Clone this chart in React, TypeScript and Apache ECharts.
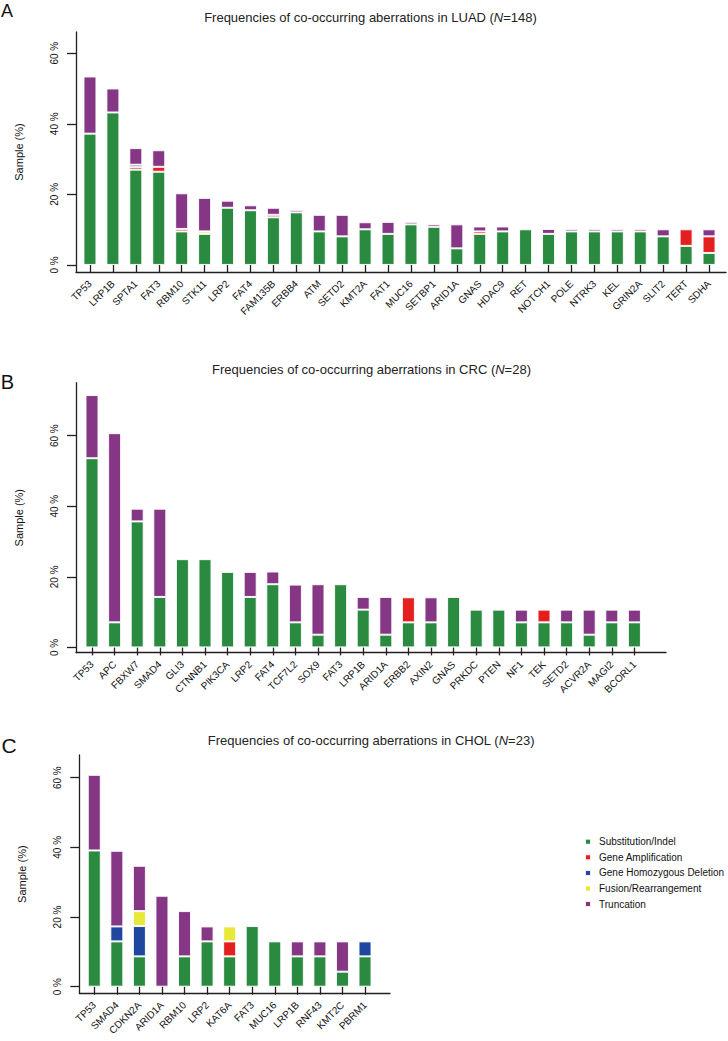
import React, { useEffect, useRef } from 'react';
import * as echarts from 'echarts';

const TYPES = ['Substitution/Indel', 'Gene Amplification', 'Gene Homozygous Deletion', 'Fusion/Rearrangement', 'Truncation'];
const COLORS = ['#2a8a40', '#e41f1f', '#1f47a0', '#e8e83a', '#853786'];
const Y_TICKS = [0, 20, 40, 60];

// Panel A: LUAD (N=148), values in % of samples
const CATS_A = ['TP53', 'LRP1B', 'SPTA1', 'FAT3', 'RBM10', 'STK11', 'LRP2', 'FAT4', 'FAM135B', 'ERBB4', 'ATM', 'SETD2', 'KMT2A', 'FAT1', 'MUC16', 'SETBP1', 'ARID1A', 'GNAS', 'HDAC9', 'RET', 'NOTCH1', 'POLE', 'NTRK3', 'KEL', 'GRIN2A', 'SLIT2', 'TERT', 'SDHA'];
const SUB_A = [37.2, 43.2, 27.0, 26.4, 9.5, 8.8, 16.2, 15.5, 13.5, 14.9, 9.5, 8.1, 10.1, 8.8, 11.5, 10.8, 4.7, 8.8, 9.5, 10.1, 8.8, 9.5, 9.5, 9.5, 9.5, 8.1, 5.4, 3.4];
const AMP_A = [0, 0, 0.7, 1.4, 0.7, 0, 0, 0, 0.7, 0, 0, 0, 0, 0, 0, 0, 0, 0.7, 0, 0, 0, 0, 0, 0, 0, 0, 4.7, 4.7];
const DEL_A = [0, 0, 0.7, 0, 0, 0, 0, 0, 0, 0, 0, 0, 0, 0, 0, 0, 0, 0, 0, 0, 0, 0, 0, 0, 0, 0, 0, 0];
const FUS_A = [0, 0, 0, 0, 0, 0.7, 0, 0, 0, 0, 0, 0, 0, 0, 0, 0, 0, 0, 0, 0, 0, 0, 0, 0, 0, 0, 0, 0];
const TRUNC_A = [16.2, 6.8, 4.7, 4.7, 10.1, 9.5, 2.0, 1.4, 2.0, 0.7, 4.7, 6.1, 2.0, 3.4, 0.7, 0.7, 6.8, 1.4, 1.4, 0, 1.4, 0.7, 0.7, 0.7, 0.7, 2.0, 0, 2.0];

// Panel B: CRC (N=28)
const CATS_B = ['TP53', 'APC', 'FBXW7', 'SMAD4', 'GLI3', 'CTNNB1', 'PIK3CA', 'LRP2', 'FAT4', 'TCF7L2', 'SOX9', 'FAT3', 'LRP1B', 'ARID1A', 'ERBB2', 'AXIN2', 'GNAS', 'PRKDC', 'PTEN', 'NF1', 'TEK', 'SETD2', 'ACVR2A', 'MAGI2', 'BCORL1'];
const SUB_B = [53.6, 7.1, 35.7, 14.3, 25.0, 25.0, 21.4, 14.3, 17.9, 7.1, 3.6, 17.9, 10.7, 3.6, 7.1, 7.1, 14.3, 10.7, 10.7, 7.1, 7.1, 7.1, 3.6, 7.1, 7.1];
const AMP_B = [0, 0, 0, 0, 0, 0, 0, 0, 0, 0, 0, 0, 0, 0, 7.1, 0, 0, 0, 0, 0, 3.6, 0, 0, 0, 0];
const DEL_B = [0, 0, 0, 0, 0, 0, 0, 0, 0, 0, 0, 0, 0, 0, 0, 0, 0, 0, 0, 0, 0, 0, 0, 0, 0];
const FUS_B = [0, 0, 0, 0, 0, 0, 0, 0, 0, 0, 0, 0, 0, 0, 0, 0, 0, 0, 0, 0, 0, 0, 0, 0, 0];
const TRUNC_B = [17.9, 53.6, 3.6, 25.0, 0, 0, 0, 7.1, 3.6, 10.7, 14.3, 0, 3.6, 10.7, 0, 7.1, 0, 0, 0, 3.6, 0, 3.6, 7.1, 3.6, 3.6];

// Panel C: CHOL (N=23)
const CATS_C = ['TP53', 'SMAD4', 'CDKN2A', 'ARID1A', 'RBM10', 'LRP2', 'KAT6A', 'FAT3', 'MUC16', 'LRP1B', 'RNF43', 'KMT2C', 'PBRM1'];
const SUB_C = [39.1, 13.0, 8.7, 0, 8.7, 13.0, 8.7, 17.4, 13.0, 8.7, 8.7, 4.3, 8.7];
const AMP_C = [0, 0, 0, 0, 0, 0, 4.3, 0, 0, 0, 0, 0, 0];
const DEL_C = [0, 4.3, 8.7, 0, 0, 0, 0, 0, 0, 0, 0, 0, 4.3];
const FUS_C = [0, 0, 4.3, 0, 0, 0, 4.3, 0, 0, 0, 0, 0, 0];
const TRUNC_C = [21.7, 21.7, 13.0, 26.1, 13.0, 4.3, 0, 0, 0, 4.3, 4.3, 8.7, 0];

const FONT = 'Liberation Sans, Arial, sans-serif';
const AX = '#231f20';

const PANELS = [
  {
    letter: 'A', cohort: 'LUAD', n: '148', cats: CATS_A,
    series: [SUB_A, AMP_A, DEL_A, FUS_A, TRUNC_A],
    frame: { left: 76, top: 32, width: 650, height: 240 },
    bands: { left: 78.5, width: 642 },
    yMin: -2, yMax: 66,
    titleX: 370.5, titleY: 17, letterX: 7, letterY: 10.5, letterSize: 18,
  },
  {
    letter: 'B', cohort: 'CRC', n: '28', cats: CATS_B,
    series: [SUB_B, AMP_B, DEL_B, FUS_B, TRUNC_B],
    frame: { left: 76, top: 382.7, width: 590, height: 270 },
    bands: { left: 80.7, width: 565 },
    yMin: -1.5, yMax: 75,
    titleX: 371.5, titleY: 369, letterX: 7.5, letterY: 382, letterSize: 20,
  },
  {
    letter: 'C', cohort: 'CHOL', n: '23', cats: CATS_C,
    series: [SUB_C, AMP_C, DEL_C, FUS_C, TRUNC_C],
    frame: { left: 79.3, top: 755, width: 310.7, height: 238.3 },
    bands: { left: 83.0, width: 293.3 },
    yMin: -1.9, yMax: 66.5,
    titleX: 371, titleY: 740.7, letterX: 9, letterY: 745, letterSize: 21,
  },
];

export default function App() {
  const ref = useRef<HTMLDivElement>(null);
  useEffect(() => {
    if (!ref.current) return;
    const chart = echarts.init(ref.current, undefined, { renderer: 'svg' });
    const grid: any[] = [];
    const xAxis: any[] = [];
    const yAxis: any[] = [];
    const series: any[] = [];
    const graphic: any[] = [];
    const line = { color: AX, width: 1.3 };

    PANELS.forEach((p, i) => {
      // frame grid: axis lines + y ticks/labels/name
      grid.push({ ...p.frame, containLabel: false });
      const fi = grid.length - 1;
      xAxis.push({
        type: 'value', gridIndex: fi, min: 0, max: 1,
        axisLine: { show: true, onZero: false, lineStyle: line },
        axisTick: { show: false }, axisLabel: { show: false }, splitLine: { show: false },
      });
      yAxis.push({
        type: 'value', gridIndex: fi, min: p.yMin, max: p.yMax,
        name: 'Sample (%)', nameLocation: 'middle', nameRotate: 90, nameGap: 52,
        nameTextStyle: { fontSize: 11, fontFamily: FONT, color: '#111' },
        axisLine: { show: true, onZero: false, lineStyle: line },
        axisTick: { show: true, length: 9, customValues: Y_TICKS, lineStyle: line },
        axisLabel: {
          show: true, customValues: Y_TICKS, rotate: 90, margin: 17,
          formatter: (v: number) => `${v} %`,
          fontSize: 10, color: '#111', fontFamily: FONT,
        },
        splitLine: { show: false },
      });
      // bar grid: categories
      grid.push({ left: p.bands.left, width: p.bands.width, top: p.frame.top, height: p.frame.height, containLabel: false });
      const bi = grid.length - 1;
      xAxis.push({
        type: 'category', gridIndex: bi, data: p.cats, boundaryGap: true,
        axisLine: { show: false },
        axisTick: { show: true, length: 8, alignWithLabel: true, lineStyle: line },
        axisLabel: {
          show: true, interval: 0, rotate: 45, margin: 10,
          fontSize: 10, color: '#111', fontFamily: FONT,
        },
        splitLine: { show: false },
      });
      yAxis.push({ type: 'value', gridIndex: bi, min: p.yMin, max: p.yMax, show: false });
      p.series.forEach((vals, t) => {
        series.push({
          type: 'bar', name: TYPES[t], xAxisIndex: bi, yAxisIndex: bi, stack: 'panel' + i,
          barWidth: 13,
          data: vals.map((v) => (v > 0 ? v : '-')),
          itemStyle: { color: COLORS[t], borderColor: 'rgba(255,255,255,0.9)', borderWidth: 1 },
          emphasis: { disabled: true },
        });
      });
      graphic.push({
        type: 'text', x: p.titleX, y: p.titleY,
        style: {
          text: `Frequencies of co-occurring aberrations in ${p.cohort} ({i|N}=${p.n})`,
          fontSize: 13, fontFamily: FONT, fill: '#222', textAlign: 'center', textVerticalAlign: 'middle',
          rich: { i: { fontStyle: 'italic', fontSize: 13, fontFamily: FONT, fill: '#222' } },
        },
      });
      graphic.push({
        type: 'text', x: p.letterX, y: p.letterY,
        style: {
          text: p.letter, fontSize: p.letterSize, fontFamily: FONT, fill: '#111',
          textAlign: 'center', textVerticalAlign: 'middle',
        },
      });
    });

    chart.setOption({
      animation: false,
      backgroundColor: '#ffffff',
      grid, xAxis, yAxis, series, graphic,
      legend: {
        orient: 'vertical', left: 579, top: 830.7, itemWidth: 6, itemHeight: 6, itemGap: 3.6,
        icon: 'rect', selectedMode: false, data: TYPES,
        textStyle: { fontSize: 10, fontFamily: FONT, color: '#111', lineHeight: 12, padding: [0, 0, 0, 3] },
      },
    });
    return () => chart.dispose();
  }, []);
  return (
    <div
      ref={ref}
      style={{ position: 'absolute', left: 0, top: 0, width: 728, height: 1041, background: '#fff' }}
    />
  );
}
